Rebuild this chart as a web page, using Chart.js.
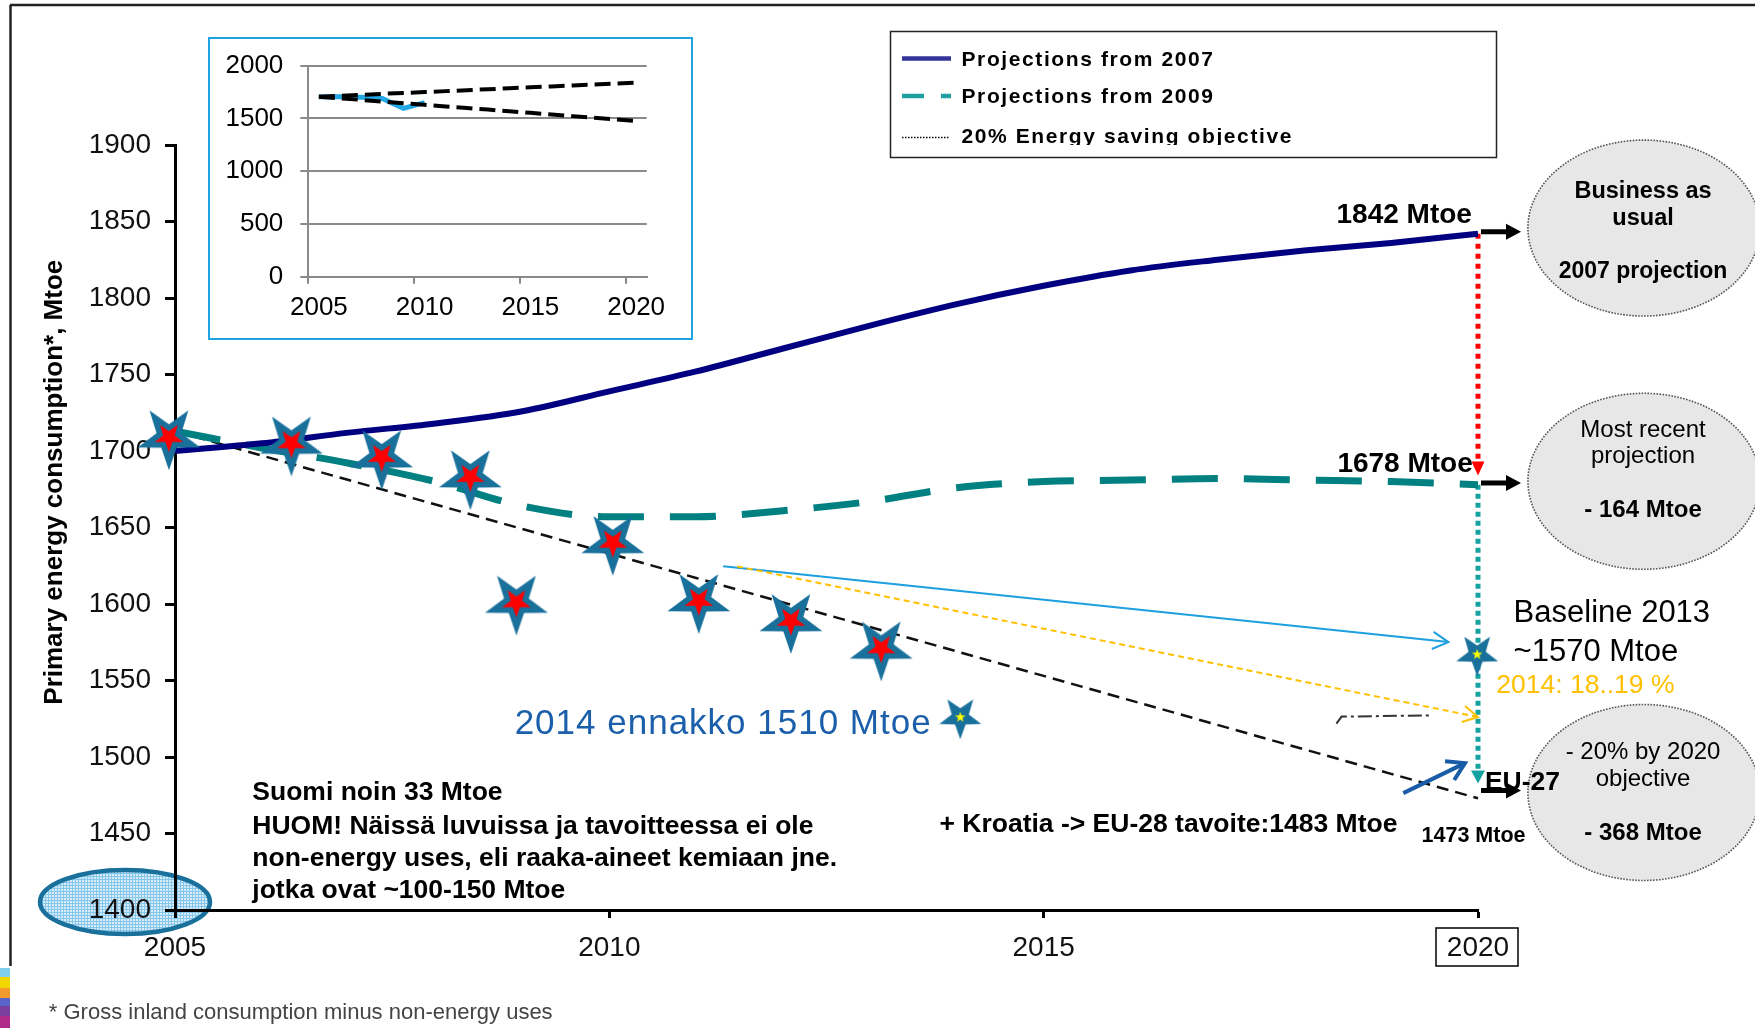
<!DOCTYPE html>
<html lang="en">
<head>
<meta charset="utf-8">
<title>Primary energy consumption</title>
<script src="https://cdn.jsdelivr.net/npm/chart.js@4.4.1/dist/chart.umd.min.js"></script>
<style>
  html, body { margin:0; padding:0; background:#fff; }
  #stage { position:relative; width:1755px; height:1028px; overflow:hidden; background:#fff; }
  #mainChart { position:absolute; left:0; top:0; }
  #insetBox { position:absolute; left:208px; top:37px; width:485px; height:303px; box-sizing:border-box; border:2px solid #1ea3e2; background:#fff; }
  #insetChart { position:absolute; left:0; top:0; }
</style>
</head>
<body>
<div id="stage">
  <canvas id="mainChart" width="1755" height="1028"></canvas>
  <div id="insetBox"><canvas id="insetChart" width="481" height="299"></canvas></div>
</div>
<script>
const FONT = "'Liberation Sans', Arial, Helvetica, sans-serif";

// ---------------- data ----------------
const years = [2005, 2006, 2007, 2008, 2009, 2010, 2011, 2012, 2013, 2014, 2015, 2016, 2017, 2018, 2019, 2020];
const projections2007 = [1700, 1705, 1712, 1718, 1726, 1739, 1752, 1767, 1782, 1796, 1808, 1818, 1825, 1831, 1836, 1842];
const projections2009 = [1713, 1702, 1692, 1680, 1664, 1657, 1657, 1661, 1667, 1676, 1680, 1681, 1682, 1681, 1680, 1678];
const savingObjective = [1713, 1697, 1681, 1665, 1649, 1633, 1617, 1601, 1585, 1569, 1553, 1537, 1521, 1505, 1489, 1473];
const observedX = [2004.93, 2006.34, 2007.38, 2008.40, 2008.93, 2010.04, 2011.03, 2012.09, 2013.13];
const observedY = [1709, 1705, 1696, 1683, 1601, 1640, 1602, 1589, 1571];
const estimateX = [2014.04, 2019.99];
const estimateY = [1526, 1567];
const mainXTicks = [2005, 2010, 2015, 2020];
const mainYTicks = [1400, 1450, 1500, 1550, 1600, 1650, 1700, 1750, 1800, 1850, 1900];

const insetYears = ['2005','2006','2007','2008','2009','2010','2011','2012','2013','2014','2015','2016','2017','2018','2019','2020'];
const insetObserved = [1706, 1706, 1700, 1690, 1595, 1650];
const insetUpper = [1706, 1715, 1724, 1733, 1742, 1750, 1759, 1768, 1777, 1786, 1795, 1804, 1813, 1822, 1831, 1840];
const insetLower = [1706, 1691, 1676, 1660, 1645, 1630, 1614, 1599, 1584, 1568, 1553, 1538, 1522, 1507, 1492, 1476];
const insetYTicks = [0, 500, 1000, 1500, 2000];

// ---------------- helpers ----------------
function starPath(g, cx, cy, R, r, rot) {
  g.beginPath();
  for (let i = 0; i < 10; i++) {
    const a = rot + i * Math.PI / 5;
    const rad = i % 2 === 0 ? R : r;
    const x = cx + rad * Math.sin(a), y = cy - rad * Math.cos(a);
    if (i) g.lineTo(x, y); else g.moveTo(x, y);
  }
  g.closePath();
}
function makeStar(R, r, color, R2, r2, color2, rot2) {
  const size = Math.ceil(R * 2 + 4);
  const c = document.createElement('canvas');
  c.width = size; c.height = size;
  const g = c.getContext('2d');
  starPath(g, size / 2, size / 2, R, r, Math.PI);
  g.fillStyle = color; g.fill();
  starPath(g, size / 2, size / 2, R2, r2, rot2);
  g.fillStyle = color2; g.fill();
  return c;
}
const bigStar = makeStar(33, 13, '#18709b', 15, 6, '#ff0000', Math.PI);
const smallStar = makeStar(22, 9, '#18709b', 5.5, 2.2, '#ffff00', 0);

function polyline(ctx, pts, color, width, dash) {
  ctx.save();
  ctx.strokeStyle = color; ctx.lineWidth = width; ctx.setLineDash(dash || []);
  ctx.lineCap = 'butt'; ctx.lineJoin = 'miter';
  ctx.beginPath();
  pts.forEach((p, i) => i ? ctx.lineTo(p[0], p[1]) : ctx.moveTo(p[0], p[1]));
  ctx.stroke();
  ctx.restore();
}
function openHead(ctx, from, to, len, ang, color, width) {
  const a = Math.atan2(to[1] - from[1], to[0] - from[0]);
  polyline(ctx, [
    [to[0] - len * Math.cos(a - ang), to[1] - len * Math.sin(a - ang)],
    to,
    [to[0] - len * Math.cos(a + ang), to[1] - len * Math.sin(a + ang)]
  ], color, width);
}
function filledHead(ctx, from, to, len, halfW, color) {
  const a = Math.atan2(to[1] - from[1], to[0] - from[0]);
  const bx = to[0] - len * Math.cos(a), by = to[1] - len * Math.sin(a);
  const px = -Math.sin(a), py = Math.cos(a);
  ctx.save();
  ctx.fillStyle = color;
  ctx.beginPath();
  ctx.moveTo(to[0], to[1]);
  ctx.lineTo(bx + halfW * px, by + halfW * py);
  ctx.lineTo(bx - halfW * px, by - halfW * py);
  ctx.closePath();
  ctx.fill();
  ctx.restore();
  return [bx, by];
}
function text(ctx, s, x, y, o) {
  ctx.save();
  ctx.font = (o.weight || '') + ' ' + o.size + 'px ' + FONT;
  ctx.fillStyle = o.color || '#000';
  ctx.textAlign = o.align || 'left';
  ctx.textBaseline = 'alphabetic';
  if ('letterSpacing' in ctx) ctx.letterSpacing = (o.spacing || 0) + 'px';
  ctx.fillText(s, x, y);
  ctx.restore();
}
function ellipse(ctx, cx, cy, rx, ry, fill, stroke, lw, dash) {
  ctx.save();
  ctx.beginPath();
  ctx.ellipse(cx, cy, rx, ry, 0, 0, Math.PI * 2);
  if (fill) { ctx.fillStyle = fill; ctx.fill(); }
  if (stroke) { ctx.strokeStyle = stroke; ctx.lineWidth = lw; ctx.setLineDash(dash || []); ctx.stroke(); }
  ctx.restore();
}

// ---------------- annotation plugin ----------------
const annotations = {
  id: 'annotations',
  beforeDraw(chart) {
    const ctx = chart.ctx, xs = chart.scales.x, ys = chart.scales.y;
    // hatched light-blue ellipse around the 1400 label
    const pat = document.createElement('canvas'); pat.width = 3; pat.height = 3;
    const pg = pat.getContext('2d');
    pg.fillStyle = '#d6edf9'; pg.fillRect(0, 0, 3, 3);
    pg.fillStyle = '#86c6ea'; pg.fillRect(0, 0, 1, 3); pg.fillRect(0, 0, 3, 1);
    ellipse(ctx, xs.getPixelForValue(2005) - 50, ys.getPixelForValue(1400) - 8, 85, 32,
      ctx.createPattern(pat, 'repeat'), '#18709b', 4.5);
  },
  beforeDatasetsDraw(chart) {
    const ctx = chart.ctx, xs = chart.scales.x, ys = chart.scales.y;
    const P = (v) => [xs.getPixelForValue(v[0]), ys.getPixelForValue(v[1])];
    // red dotted drop 1842 -> 1678
    polyline(ctx, [P([2020, 1842]), [P([2020, 1842])[0], P([2020, 1686])[1]]], '#ff0000', 5, [5, 5]);
    // teal dotted drop 1678 -> 1483
    polyline(ctx, [P([2020, 1678]), P([2020, 1490])], '#17a2a2', 5, [5, 4]);
    // light blue arrow to Baseline 2013
    const b0 = P([2011.31, 1624.6]), b1 = P([2019.66, 1575.1]);
    polyline(ctx, [b0, b1], '#1e9fe0', 2);
    openHead(ctx, b0, b1, 18, 0.5, '#1e9fe0', 2);
    // orange dashed arrow
    const o0 = P([2011.47, 1624.6]), o1 = P([2020.0, 1526.1]);
    polyline(ctx, [o0, o1], '#ffc000', 2, [6, 4]);
    openHead(ctx, o0, o1, 17, 0.5, '#ffc000', 2);
    // short dash-dot segment
    polyline(ctx, [P([2018.37, 1521.8]), P([2018.43, 1526.4]), P([2019.45, 1527.2])], '#333', 2, [14, 4, 3, 4]);
  },
  afterDraw(chart) {
    const ctx = chart.ctx, xs = chart.scales.x, ys = chart.scales.y;
    const P = (v) => [xs.getPixelForValue(v[0]), ys.getPixelForValue(v[1])];
    const x2020 = xs.getPixelForValue(2020);

    // slide frame
    polyline(ctx, [[10, 5], [1755, 5]], '#222', 2.5);
    polyline(ctx, [[10.5, 5], [10.5, 966]], '#222', 2.5);
    const stripe = [['#7fd0ea', 968, 977], ['#f2d600', 977, 988], ['#f39a2c', 988, 998], ['#5a63c8', 998, 1006], ['#7b3f9e', 1006, 1016], ['#b02c8a', 1016, 1028]];
    stripe.forEach(s => { ctx.fillStyle = s[0]; ctx.fillRect(0, s[1], 10, s[2] - s[1]); });

    // grey bubbles
    const bub = [1845.7, 1680.2, 1476.8];
    bub.forEach(v => { const c = P([2021.91, v]); ellipse(ctx, c[0], c[1], 116, 88, '#e7e7e7', '#555', 1.6, [1.6, 1.4]); });

    // y axis title
    ctx.save();
    ctx.translate(53, ys.getPixelForValue(1679.6));
    ctx.rotate(-Math.PI / 2);
    text(ctx, 'Primary energy consumption*, Mtoe', 0, 9, { weight: 'bold', size: 26, align: 'center' });
    ctx.restore();

    // annotation texts
    const notes = [
      ['1842 Mtoe', 2019.93, 1848.7, { weight: 'bold', size: 28, align: 'right' }],
      ['1678 Mtoe', 2019.94, 1686.3, { weight: 'bold', size: 28, align: 'right' }],
      ['Baseline 2013', 2020.41, 1588.2, { size: 31 }],
      ['~1570 Mtoe', 2020.41, 1562.7, { size: 31 }],
      ['2014: 18..19 %', 2020.21, 1541.6, { size: 26.5, color: '#ffc000' }],
      ['EU-27', 2020.08, 1478.6, { weight: 'bold', size: 26.5 }],
      ['1473 Mtoe', 2019.35, 1444.3, { weight: 'bold', size: 21.5 }],
      ['+ Kroatia -> EU-28 tavoite:1483 Mtoe', 2013.80, 1450.9, { weight: 'bold', size: 26.5 }],
      ['2014 ennakko 1510 Mtoe', 2008.91, 1515.1, { size: 35, color: '#1b5fab', spacing: 1 }],
      ['Suomi noin 33 Mtoe', 2005.89, 1471.9, { weight: 'bold', size: 26.5 }],
      ['HUOM! Näissä luvuissa ja tavoitteessa ei ole', 2005.89, 1449.8, { weight: 'bold', size: 26.5 }],
      ['non-energy uses, eli raaka-aineet kemiaan jne.', 2005.89, 1428.8, { weight: 'bold', size: 26.5 }],
      ['jotka ovat ~100-150 Mtoe', 2005.89, 1407.8, { weight: 'bold', size: 26.5 }],
      ['Business as', 2021.90, 1865.1, { weight: 'bold', size: 23.5, align: 'center' }],
      ['usual', 2021.90, 1847.7, { weight: 'bold', size: 23.5, align: 'center' }],
      ['2007 projection', 2021.90, 1812.8, { weight: 'bold', size: 23, align: 'center' }],
      ['Most recent', 2021.90, 1709.2, { size: 24, align: 'center' }],
      ['projection', 2021.90, 1692.3, { size: 24, align: 'center' }],
      ['- 164 Mtoe', 2021.90, 1656.7, { weight: 'bold', size: 24, align: 'center' }],
      ['- 20% by 2020', 2021.90, 1499.0, { size: 24, align: 'center' }],
      ['objective', 2021.90, 1481.0, { size: 24, align: 'center' }],
      ['- 368 Mtoe', 2021.90, 1445.5, { weight: 'bold', size: 24, align: 'center' }]
    ];
    notes.forEach(n => { const p = P([n[1], n[2]]); text(ctx, n[0], p[0], p[1], n[3]); });

    // arrow heads on the drops
    filledHead(ctx, [x2020, 0], P([2020, 1684]), 14, 6.5, '#ff0000');
    filledHead(ctx, [x2020, 0], P([2020, 1482.6]), 13, 7, '#17a2a2');

    // black arrows to the bubbles
    [1843.3, 1679.1, 1478.1].forEach(v => {
      const y = ys.getPixelForValue(v);
      const s = [x2020 + 3, y], e = [x2020 + 43, y];
      const base = filledHead(ctx, s, e, 15, 8, '#000');
      polyline(ctx, [s, [base[0] + 1, y]], '#000', 5);
    });

    // dark blue arrow to EU-27
    const d0 = P([2019.14, 1476.4]), d1 = P([2019.85, 1496]);
    polyline(ctx, [d0, d1], '#1a5ca8', 4);
    openHead(ctx, d0, d1, 20, 0.55, '#1a5ca8', 4);

    // box around 2020 tick label
    ctx.save(); ctx.strokeStyle = '#000'; ctx.lineWidth = 1.5;
    ctx.strokeRect(x2020 - 42, 928, 82, 38); ctx.restore();

    // legend
    ctx.save(); ctx.strokeStyle = '#222'; ctx.lineWidth = 1.5;
    ctx.strokeRect(890.5, 31.5, 606, 126); ctx.restore();
    const ds = chart.data.datasets;
    polyline(ctx, [[902, 58.5], [951, 58.5]], '#333399', 4.5);
    text(ctx, ds[2].label, 961.5, 66, { weight: 'bold', size: 21, spacing: 1.6 });
    polyline(ctx, [[902, 96], [951, 96]], '#1fa0a0', 4.5, [22, 17]);
    text(ctx, ds[3].label, 961.5, 103.3, { weight: 'bold', size: 21, spacing: 1.6 });
    polyline(ctx, [[902, 137.5], [949, 137.5]], '#000', 1.5, [1.5, 1.5]);
    ctx.save(); ctx.beginPath(); ctx.rect(890, 110, 610, 35); ctx.clip();
    text(ctx, ds[4].label, 961.5, 142.6, { weight: 'bold', size: 21, spacing: 1.6 });
    ctx.restore();

    // footnote
    text(ctx, '* Gross inland consumption minus non-energy uses', 48.8, 1019, { size: 22, color: '#444' });
  }
};

// ---------------- main chart ----------------
const main = new Chart(document.getElementById('mainChart'), {
  type: 'line',
  data: {
    datasets: [
      { label: 'Observed', data: observedX.map((x, i) => ({ x, y: observedY[i] })), showLine: false,
        pointStyle: bigStar, pointRadius: 12, clip: false },
      { label: 'Estimates', data: estimateX.map((x, i) => ({ x, y: estimateY[i] })), showLine: false,
        pointStyle: smallStar, pointRadius: 12, clip: false },
      { label: 'Projections from 2007', data: years.map((x, i) => ({ x, y: projections2007[i] })),
        borderColor: '#000080', borderWidth: 6, pointRadius: 0, cubicInterpolationMode: 'monotone', clip: false },
      { label: 'Projections from 2009', data: years.map((x, i) => ({ x, y: projections2009[i] })),
        borderColor: '#008080', borderWidth: 7, borderDash: [46, 26], pointRadius: 0, cubicInterpolationMode: 'monotone', clip: false },
      { label: '20% Energy saving objective', data: years.map((x, i) => ({ x, y: savingObjective[i] })),
        borderColor: '#111', borderWidth: 2.5, borderDash: [12, 7], pointRadius: 0, tension: 0, clip: false }
    ]
  },
  options: {
    responsive: false, animation: false, events: [],
    layout: { padding: { top: 145, right: 277, bottom: 0, left: 0 } },
    plugins: { legend: { display: false }, tooltip: { enabled: false } },
    scales: {
      x: {
        type: 'linear', min: 2005, max: 2020,
        afterBuildTicks: s => { s.ticks = mainXTicks.map(v => ({ value: v })); },
        ticks: { callback: v => String(v), font: { size: 28, family: FONT }, color: '#111', padding: 13, maxRotation: 0 },
        grid: { drawOnChartArea: false, tickLength: 8, tickWidth: 3, tickColor: '#000' },
        border: { color: '#000', width: 3 },
        afterFit: s => { s.height = 118; }
      },
      y: {
        min: 1400, max: 1900,
        afterBuildTicks: s => { s.ticks = mainYTicks.map(v => ({ value: v })); },
        ticks: { callback: v => String(v), font: { size: 28, family: FONT }, color: '#111', padding: 14 },
        grid: { drawOnChartArea: false, tickLength: 10, tickWidth: 3, tickColor: '#000' },
        border: { color: '#000', width: 3 },
        afterFit: s => { s.width = 175; }
      }
    }
  },
  plugins: [annotations]
});

// ---------------- inset chart ----------------
const inset = new Chart(document.getElementById('insetChart'), {
  type: 'line',
  data: {
    labels: insetYears,
    datasets: [
      { data: insetUpper, borderColor: '#000', borderWidth: 4, borderDash: [16, 7], pointRadius: 0, tension: 0 },
      { data: insetLower, borderColor: '#000', borderWidth: 4, borderDash: [16, 7], pointRadius: 0, tension: 0 },
      { data: insetObserved, borderColor: '#22a8e4', borderWidth: 5, pointRadius: 0, tension: 0 }
    ]
  },
  options: {
    responsive: false, animation: false, events: [],
    layout: { padding: { top: 26.7, right: 44.3, bottom: 0, left: 0 } },
    plugins: { legend: { display: false }, tooltip: { enabled: false } },
    scales: {
      x: {
        offset: true,
        grid: { offset: true, drawOnChartArea: false, tickLength: 7, lineWidth: 2,
          color: c => (c.index !== undefined && c.index % 5 === 0) ? '#888' : 'rgba(0,0,0,0)' },
        border: { color: '#888', width: 2 },
        ticks: { autoSkip: false, maxRotation: 0, padding: 8.7, font: { size: 26, family: FONT }, color: '#000',
          callback: function (v, i) { return i % 5 === 0 ? this.getLabelForValue(v) : ''; } },
        afterFit: s => { s.height = 61.3; }
      },
      y: {
        min: 0, max: 2000,
        afterBuildTicks: s => { s.ticks = insetYTicks.map(v => ({ value: v })); },
        ticks: { padding: 17, font: { size: 26, family: FONT, lineHeight: 0.7 }, color: '#000', callback: v => String(v) },
        grid: { color: '#8a8a8a', lineWidth: 2, tickLength: 8 },
        border: { color: '#8a8a8a', width: 2 },
        afterFit: s => { s.width = 98.3; }
      }
    }
  }
});
</script>
</body>
</html>
